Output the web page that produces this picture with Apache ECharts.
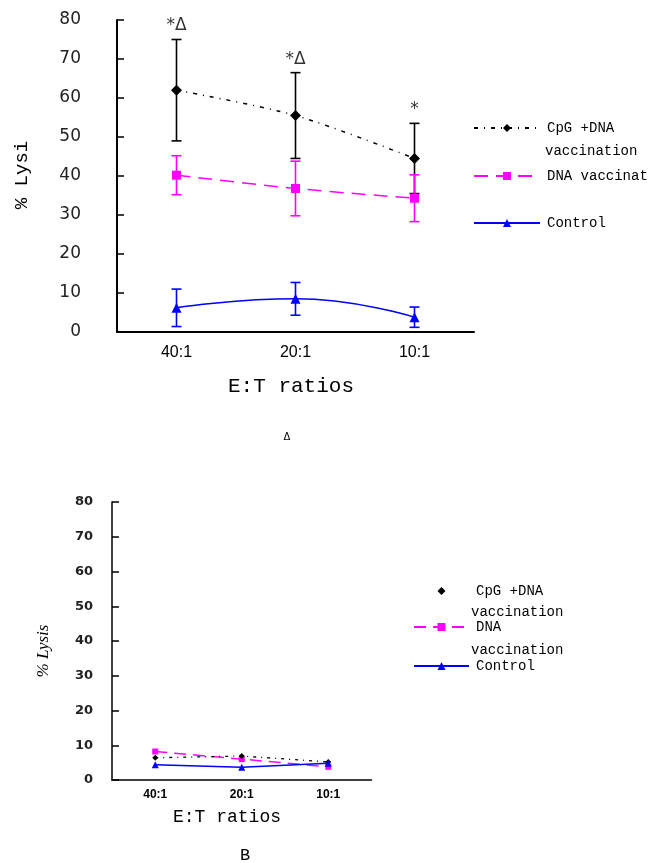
<!DOCTYPE html>
<html>
<head>
<meta charset="utf-8">
<script src="https://cdn.jsdelivr.net/npm/echarts@6/dist/echarts.min.js"></script>
<style>html,body{margin:0;padding:0;background:#fff;}#c{width:648px;height:863px;}</style>
</head>
<body>
<div id="c"></div>
<script>
// ---- data ----
const categories = ['40:1', '20:1', '10:1'];
// Panel A (mean, error)
const cpgA = [62, 55.5, 44.5];
const cpgAErr = [13, 11, 9];
const dnaA = [40.2, 36.8, 34.3];
const dnaAErr = [5, 7, 6];
const ctrlA = [6.2, 8.5, 3.8];
const ctrlAErr = [4.8, 4.2, 2.6];
const annotA = ['*\u0394', '*\u0394', '*'];
// Panel B
const cpgB = [6.4, 6.9, 5.2];
const dnaB = [8.2, 6.0, 3.8];
const ctrlB = [4.4, 3.7, 4.8];
const yMin = 0, yMax = 80, yStep = 10;

const BLACK = '#000000', MAG = '#ff00ff', BLUE = '#0000ff';
const monoFont = '"Liberation Mono", "DejaVu Sans Mono", monospace';
const serifFont = '"Liberation Serif", "DejaVu Serif", serif';
const sansFont = '"DejaVu Sans", "Liberation Sans", sans-serif';

function errData(mean, err) {
  return mean.map((m, i) => [i, m - err[i], m + err[i]]);
}
function errSeries(name, mean, err, color, idx) {
  return {
    name: name, type: 'custom', xAxisIndex: idx, yAxisIndex: idx, silent: true, z: 3,
    data: errData(mean, err),
    renderItem: function (params, api) {
      const lo = api.coord([api.value(0), api.value(1)]);
      const hi = api.coord([api.value(0), api.value(2)]);
      const w = 5;
      const st = { stroke: color, lineWidth: 1.6 };
      return {
        type: 'group', children: [
          { type: 'line', shape: { x1: hi[0], y1: hi[1], x2: lo[0], y2: lo[1] }, style: st },
          { type: 'line', shape: { x1: hi[0] - w, y1: hi[1], x2: hi[0] + w, y2: hi[1] }, style: st },
          { type: 'line', shape: { x1: lo[0] - w, y1: lo[1], x2: lo[0] + w, y2: lo[1] }, style: st }
        ]
      };
    }
  };
}

const nameMap = {
  'CpG A': 'CpG +DNA', 'DNA A': 'DNA vaccination', 'Ctrl A': 'Control',
  'CpG B': 'CpG +DNA', 'DNA B': 'DNA', 'Ctrl B': 'Control'
};
function leg(name, left, cy, w, extra) {
  return Object.assign({
    left: left, top: cy - 8, orient: 'vertical', padding: 0,
    itemWidth: w, itemHeight: 10, itemGap: 0,
    selectedMode: false,
    textStyle: { fontFamily: monoFont, fontSize: 14, color: '#000', padding: [0, 0, 0, 2] },
    formatter: n => nameMap[n],
    data: [name]
  }, extra || {});
}

function xAxisCfg(idx, fontSize, bold, margin) {
  return {
    gridIndex: idx, type: 'category', data: categories, boundaryGap: true,
    axisLine: { lineStyle: { color: '#000', width: idx === 0 ? 2 : 1.5 } },
    axisTick: { inside: true, length: 4, lineStyle: { color: '#000', width: 1.5 }, alignWithLabel: false },
    axisLabel: { color: '#000', fontSize: fontSize, fontWeight: bold ? 'bold' : 'normal', fontFamily: '"Liberation Sans", Arial, sans-serif', margin: margin },
    splitLine: { show: false }
  };
}
function yAxisCfg(idx, fontSize, bold, margin) {
  return {
    gridIndex: idx, type: 'value', min: yMin, max: yMax, interval: yStep,
    axisLine: { show: true, lineStyle: { color: '#000', width: idx === 0 ? 2 : 1.5 } },
    axisTick: { show: true, inside: true, length: 7, lineStyle: { color: '#000', width: 1.5 } },
    axisLabel: { color: '#222', fontSize: fontSize, fontWeight: bold ? 'bold' : 'normal', fontFamily: sansFont, margin: margin },
    splitLine: { show: false }
  };
}

const chart = echarts.init(document.getElementById('c'), null, { renderer: 'canvas' });
const option = {
  animation: false,
  backgroundColor: '#ffffff',
  grid: [
    { left: 117, top: 20, width: 357, height: 312 },
    { left: 112, top: 502, width: 259.5, height: 278 }
  ],
  xAxis: [xAxisCfg(0, 16, false, 13), xAxisCfg(1, 12, true, 9)],
  yAxis: [yAxisCfg(0, 17, false, 36), yAxisCfg(1, 13, true, 19)],
  legend: [
    leg('CpG A', 473, 129, 66),
    leg('DNA A', 473, 177, 66),
    leg('Ctrl A', 473, 224, 66),
    leg('CpG B', 413, 592, 55, { data: [{ name: 'CpG B', lineStyle: { opacity: 0 } }] }),
    leg('DNA B', 413, 628, 55),
    leg('Ctrl B', 413, 667, 55)
  ],
  series: [
    errSeries('errCpG', cpgA, cpgAErr, BLACK, 0),
    errSeries('errDNA', dnaA, dnaAErr, MAG, 0),
    errSeries('errCtrl', ctrlA, ctrlAErr, BLUE, 0),
    {
      name: 'CpG A', type: 'line', xAxisIndex: 0, yAxisIndex: 0, data: cpgA, smooth: 0.3, z: 4,
      symbol: 'diamond', symbolSize: 11, itemStyle: { color: BLACK },
      lineStyle: { color: BLACK, width: 1.5, type: [4, 6, 1, 6] }
    },
    {
      name: 'DNA A', type: 'line', xAxisIndex: 0, yAxisIndex: 0, data: dnaA, smooth: 0.3, z: 4,
      symbol: 'rect', symbolSize: 9, itemStyle: { color: MAG },
      lineStyle: { color: MAG, width: 1.5, type: [14, 8] }
    },
    {
      name: 'Ctrl A', type: 'line', xAxisIndex: 0, yAxisIndex: 0, data: ctrlA, smooth: true, z: 4,
      symbol: 'triangle', symbolSize: 10, itemStyle: { color: BLUE },
      lineStyle: { color: BLUE, width: 1.5, type: 'solid' }
    },
    {
      name: 'annot', type: 'scatter', xAxisIndex: 0, yAxisIndex: 0, silent: true, z: 5,
      symbolSize: 0,
      data: cpgA.map((m, i) => ({ value: [i, m + cpgAErr[i]], label: { formatter: annotA[i] } })),
      label: { show: true, position: 'top', distance: 5, color: '#000', fontSize: 17, fontFamily: sansFont }
    },
    {
      name: 'CpG B', type: 'line', xAxisIndex: 1, yAxisIndex: 1, data: cpgB, z: 4,
      symbol: 'diamond', symbolSize: 6, itemStyle: { color: BLACK },
      lineStyle: { color: BLACK, width: 1.3, type: [3, 5, 1, 5] }
    },
    {
      name: 'DNA B', type: 'line', xAxisIndex: 1, yAxisIndex: 1, data: dnaB, z: 3,
      symbol: 'rect', symbolSize: 6, itemStyle: { color: MAG },
      lineStyle: { color: MAG, width: 1.5, type: [12, 7] }
    },
    {
      name: 'Ctrl B', type: 'line', xAxisIndex: 1, yAxisIndex: 1, data: ctrlB, z: 4,
      symbol: 'triangle', symbolSize: 7, itemStyle: { color: BLUE },
      lineStyle: { color: BLUE, width: 1.5, type: 'solid' }
    }
  ],
  graphic: [
    { type: 'text', x: 22, y: 175, rotation: Math.PI / 2, style: { text: '% Lysi', fontFamily: monoFont, fontSize: 19, fill: '#000', textAlign: 'center', textVerticalAlign: 'middle' } },
    { type: 'text', x: 291, y: 386, style: { text: 'E:T ratios', fontFamily: monoFont, fontSize: 21, fill: '#000', textAlign: 'center', textVerticalAlign: 'middle' } },
    { type: 'text', x: 287, y: 437, style: { text: '\u0394', fontFamily: sansFont, fontSize: 10, fill: '#000', textAlign: 'center', textVerticalAlign: 'middle' } },
    { type: 'text', x: 545, y: 151, style: { text: 'vaccination', fontFamily: monoFont, fontSize: 14, fill: '#000', textAlign: 'left', textVerticalAlign: 'middle' } },
    { type: 'text', x: 44, y: 651, rotation: Math.PI / 2, style: { text: '% Lysis', fontFamily: serifFont, fontStyle: 'italic', fontSize: 17, fill: '#000', textAlign: 'center', textVerticalAlign: 'middle' } },
    { type: 'text', x: 227, y: 817, style: { text: 'E:T ratios', fontFamily: monoFont, fontSize: 18, fill: '#000', textAlign: 'center', textVerticalAlign: 'middle' } },
    { type: 'text', x: 245, y: 855, style: { text: 'B', fontFamily: monoFont, fontSize: 17, fill: '#000', textAlign: 'center', textVerticalAlign: 'middle' } },
    { type: 'text', x: 471, y: 612, style: { text: 'vaccination', fontFamily: monoFont, fontSize: 14, fill: '#000', textAlign: 'left', textVerticalAlign: 'middle' } },
    { type: 'text', x: 471, y: 650, style: { text: 'vaccination', fontFamily: monoFont, fontSize: 14, fill: '#000', textAlign: 'left', textVerticalAlign: 'middle' } }
  ]
};
chart.setOption(option);
</script>
</body>
</html>
